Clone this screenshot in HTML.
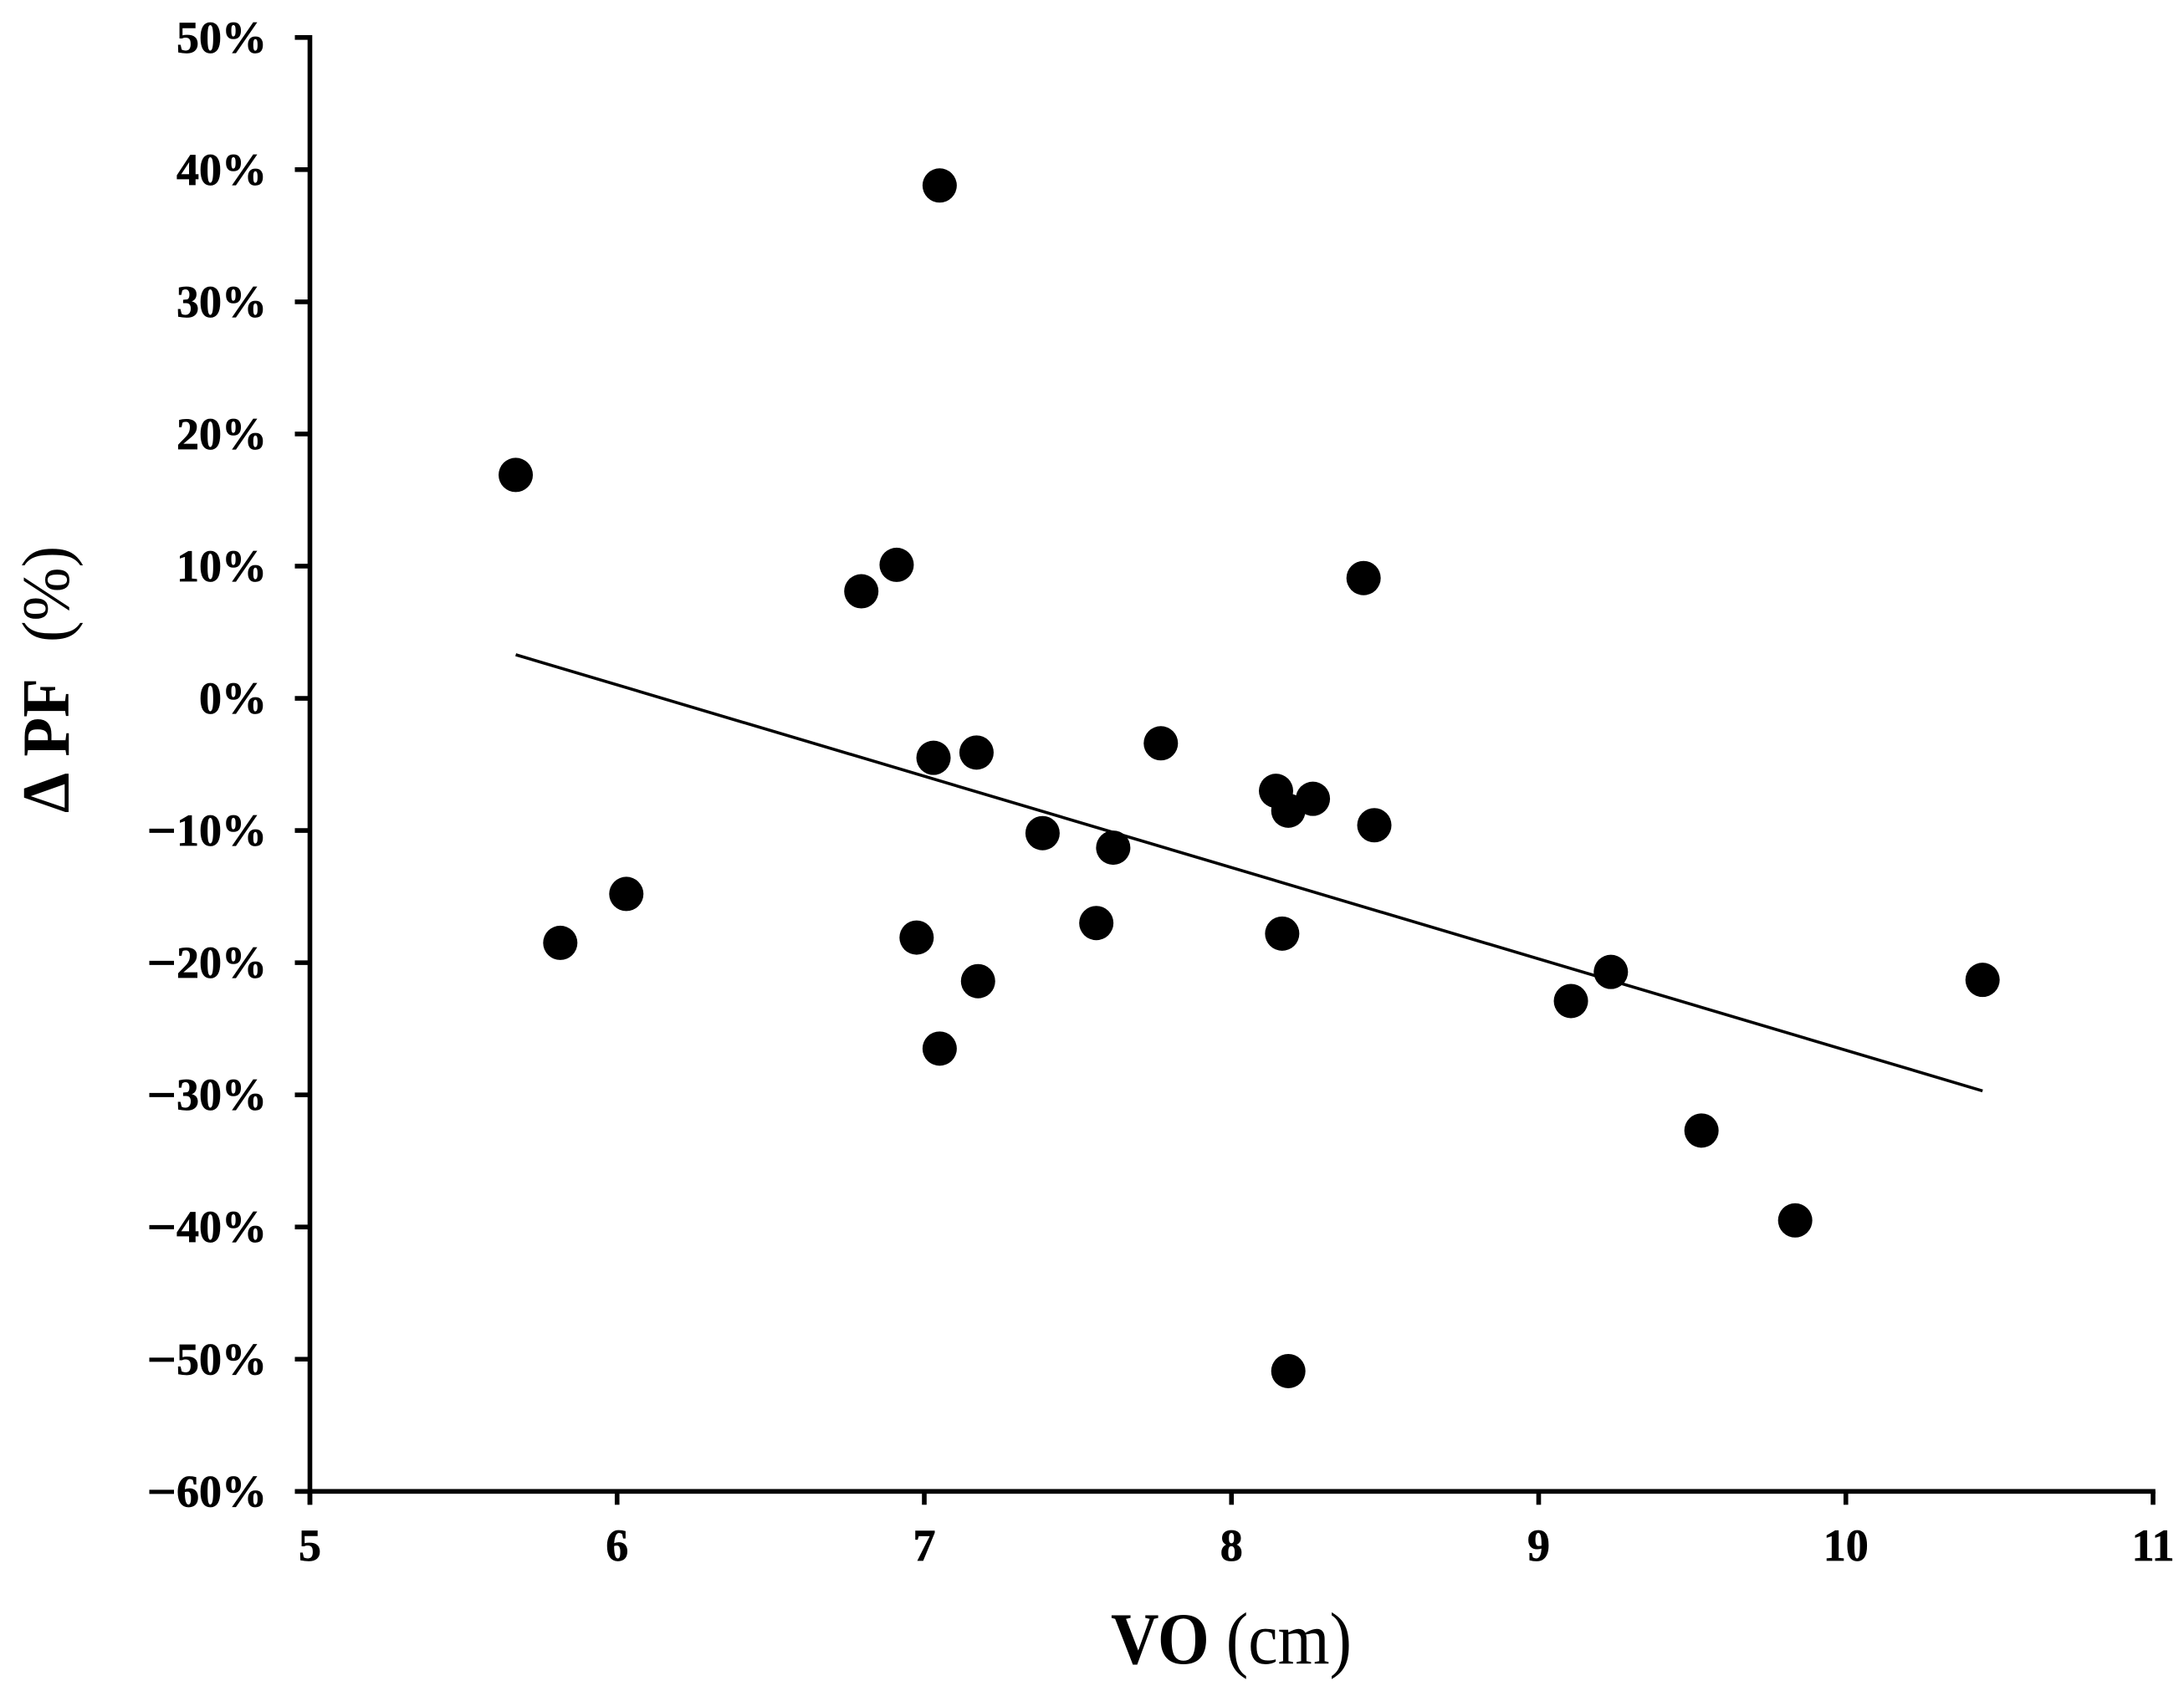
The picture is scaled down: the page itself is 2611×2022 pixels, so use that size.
<!DOCTYPE html>
<html lang="en">
<head>
<meta charset="utf-8">
<title>Change in PF versus VO scatter plot</title>
<style>
  html, body { margin: 0; padding: 0; background: #fff; }
  svg { display: block; }
  text { font-family: "Liberation Serif", serif; fill: #000; }
  .tick-label { font-size: 54px; font-weight: 700; stroke: #000; stroke-width: 0.7px; }
  .x-title { font-size: 88px; }
  .y-title { font-size: 80px; }
  .bold { font-weight: 700; }
</style>
</head>
<body>
<svg id="chart" xmlns="http://www.w3.org/2000/svg" width="2611" height="2022" viewBox="0 0 2611 2022">
  <rect x="0" y="0" width="2611" height="2022" fill="#ffffff"/>
  <g id="axes"></g>
  <line id="trend" stroke="#000" stroke-width="3.6"/>
  <g id="points"></g>
  <text class="x-title" transform="translate(1328,1989) scale(0.905,1)"><tspan class="bold">VO</tspan> (cm)</text>
  <text class="y-title" transform="translate(82,972) rotate(-90) scale(0.96,1)"><tspan class="bold" x="0">Δ</tspan><tspan class="bold" x="70">PF</tspan><tspan x="212.5">(%)</tspan></text>
</svg>
<script>
const xTicks = [5, 6, 7, 8, 9, 10, 11];
const yTicks = [50, 40, 30, 20, 10, 0, -10, -20, -30, -40, -50, -60];
const xTickLabels = ['5', '6', '7', '8', '9', '10', '11'];
const yTickLabels = ['50%', '40%', '30%', '20%', '10%', '0%', '−10%', '−20%', '−30%', '−40%', '−50%', '−60%'];
const vo = [5.67, 5.815, 6.03, 6.795, 6.91, 7.05, 6.975, 7.03, 7.17, 7.175, 7.05, 7.385, 7.56, 7.615, 7.77, 8.145, 8.185, 8.265, 8.165, 8.185, 8.43, 8.465, 9.105, 9.235, 9.53, 9.835, 10.445];
const deltaPF = [16.9, -18.5, -14.8, 8.1, 10.1, 38.8, -18.1, -4.5, -4.1, -21.4, -26.5, -10.2, -17.0, -11.3, -3.4, -7.0, -8.5, -7.6, -17.8, -50.9, 9.1, -9.6, -22.9, -20.7, -32.7, -39.5, -21.3];
const trendVO = [5.67, 10.445];
const trendPF = [3.3, -29.7];

const NS = 'http://www.w3.org/2000/svg';
const plotLeft = 370.5, plotRight = 2574, plotTop = 44.8, plotBottom = 1783.3;
const xMin = 5, xMax = 11, yMin = -60, yMax = 50;
function xScale(v) { return plotLeft + (v - xMin) / (xMax - xMin) * (plotRight - plotLeft); }
function yScale(v) { return plotBottom - (v - yMin) / (yMax - yMin) * (plotBottom - plotTop); }

const axes = document.getElementById('axes');
const pointsGroup = document.getElementById('points');

function makeLine(x1, y1, x2, y2) {
  const l = document.createElementNS(NS, 'line');
  l.setAttribute('x1', x1);
  l.setAttribute('y1', y1);
  l.setAttribute('x2', x2);
  l.setAttribute('y2', y2);
  l.setAttribute('stroke', '#000');
  l.setAttribute('stroke-width', '5.6');
  return l;
}

const yAxisLine = makeLine(plotLeft, plotTop - 2.8, plotLeft, plotBottom + 16);


axes.appendChild(yAxisLine);

const xAxisLine = makeLine(plotLeft - 18, plotBottom, plotRight + 2.8, plotBottom);


axes.appendChild(xAxisLine);

xTicks.forEach(function (t, i) {
  const px = xScale(t);
  const tick = makeLine(px, plotBottom, px, plotBottom + 16);
  
  
  axes.appendChild(tick);
  const label = document.createElementNS(NS, 'text');
  
  
  label.setAttribute('class', 'tick-label');
  label.setAttribute('x', px);
  label.setAttribute('y', 1866);
  label.setAttribute('text-anchor', 'middle');
  label.textContent = xTickLabels[i];
  axes.appendChild(label);
});

yTicks.forEach(function (t, i) {
  const py = yScale(t);
  const tick = makeLine(plotLeft - 18, py, plotLeft, py);
  
  
  axes.appendChild(tick);
  const label = document.createElementNS(NS, 'text');
  
  
  label.setAttribute('class', 'tick-label');
  label.setAttribute('x', 319);
  label.setAttribute('y', py + 18);
  label.setAttribute('text-anchor', 'end');
  const text = yTickLabels[i];
  if (text.charAt(0) === '−') {
    const minus = document.createElementNS(NS, 'tspan');
    minus.setAttribute('font-size', '62');
    minus.setAttribute('dy', '3');
    minus.textContent = '−';
    const digits = document.createElementNS(NS, 'tspan');
    digits.setAttribute('dy', '-3');
    digits.textContent = text.slice(1);
    label.appendChild(minus);
    label.appendChild(digits);
  } else {
    label.textContent = text;
  }
  axes.appendChild(label);
});

const trend = document.getElementById('trend');
trend.setAttribute('x1', xScale(trendVO[0]));
trend.setAttribute('y1', yScale(trendPF[0]));
trend.setAttribute('x2', xScale(trendVO[1]));
trend.setAttribute('y2', yScale(trendPF[1]));

vo.forEach(function (v, i) {
  const c = document.createElementNS(NS, 'circle');
  
  
  c.setAttribute('cx', xScale(v));
  c.setAttribute('cy', yScale(deltaPF[i]));
  c.setAttribute('r', 20.5);
  c.setAttribute('fill', '#000');
  pointsGroup.appendChild(c);
});
</script>
</body>
</html>
